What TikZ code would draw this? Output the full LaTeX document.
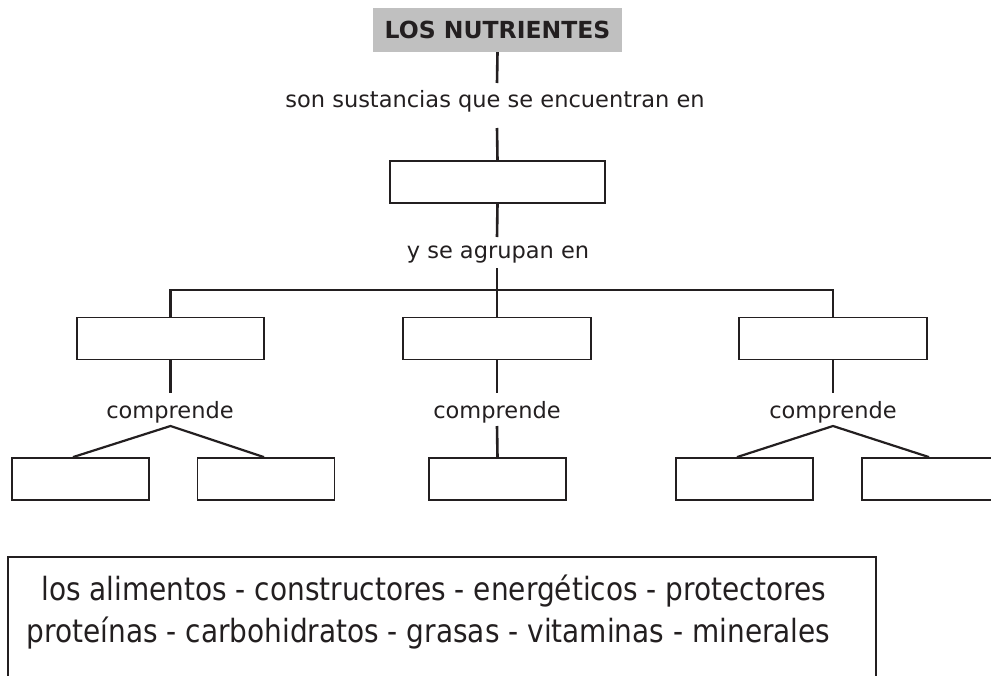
\documentclass[tikz,border=0pt]{standalone}
\usepackage{fontspec}
\setmainfont{DejaVu Sans}
\newfontfamily\wordfont[FakeStretch=0.874]{DejaVu Sans}
\definecolor{ink}{HTML}{231F20}
\definecolor{titlegray}{HTML}{C0C0C0}
\begin{document}
\begin{tikzpicture}[x=1pt,y=-1pt,
  blank/.style={draw=ink, line width=1.8pt, minimum width=#1, minimum height=42pt, inner sep=0pt},
  blank/.default=137pt,
  link/.style={draw=ink, line width=2.6pt, line join=miter},
  lbl/.style={font=\fontsize{22.5}{27}\selectfont, text=ink, inner sep=0pt, anchor=base},
  wordlbl/.style={font=\wordfont\fontsize{32}{38}\selectfont, text=ink, inner sep=0pt, anchor=base}]
\useasboundingbox (0,0) rectangle (991,675);
\clip (0,0) rectangle (991,675);

% title
\node[fill=titlegray, minimum width=249pt, minimum height=44pt, inner sep=0pt,
      font=\bfseries\fontsize{23.5}{28}\selectfont, text=ink] (title) at (497.5,30) {LOS NUTRIENTES};

% first link
\coordinate (c1) at (497,83);
\node[lbl] (t1) at (495,107) {son sustancias que se encuentran en};
\coordinate (c2) at (497,128);
\node[blank=215pt] (box1) at (497.5,182) {};
\draw[link] (title.south) -- (c1);
\draw[link] (c2) -- (box1.north);

% second link
\coordinate (c3) at (497,237);
\node[lbl] (t2) at (498,258) {y se agrupan en};
\coordinate (c4) at (497,268);
\coordinate (bar) at (497,290);
\draw[link] (box1.south) -- (c3);

% groups
\node[blank=187pt] (boxA) at (170.5,338.5) {};
\node[blank=188pt] (boxB) at (497,338.5) {};
\node[blank=188pt] (boxC) at (833,338.5) {};
\draw[link] (c4) -- (boxB.north);
\draw[link] (boxA.north) |- (bar) -| (boxC.north);

% comprende labels
\coordinate (dA) at (170.5,393);
\coordinate (dB) at (497,393);
\coordinate (dC) at (833,393);
\node[lbl] (cA) at (170,418) {comprende};
\node[lbl] (cB) at (497,418) {comprende};
\node[lbl] (cC) at (833,418) {comprende};
\coordinate (apA) at (170.5,426);
\coordinate (apB) at (497,426);
\coordinate (apC) at (833,426);
\draw[link] (boxA.south) -- (dA);
\draw[link] (boxB.south) -- (dB);
\draw[link] (boxC.south) -- (dC);

% bottom blanks
\node[blank] (A1) at (80.5,479) {};
\node[blank] (A2) at (266,479) {};
\node[blank] (B1) at (497.5,479) {};
\node[blank] (C1) at (744.5,479) {};
\node[blank] (C2) at (930.5,479) {};
\draw[link, line width=2.2pt] ([xshift=-7.5pt]A1.north) -- (apA) -- ([xshift=-2pt]A2.north);
\draw[link] (apB) -- (B1.north);
\draw[link, line width=2.2pt] ([xshift=-7.5pt]C1.north) -- (apC) -- ([xshift=-1.5pt]C2.north);

% word bank
\node[draw=ink, line width=1.8pt, minimum width=868pt, minimum height=136pt, inner sep=0pt] (bank) at (442,625) {};
\node[wordlbl] (w1) at (433.5,600) {los alimentos - constructores - energéticos - protectores};
\node[wordlbl] (w2) at (428.5,642) {proteínas - carbohidratos - grasas - vitaminas - minerales};
\end{tikzpicture}
\end{document}
